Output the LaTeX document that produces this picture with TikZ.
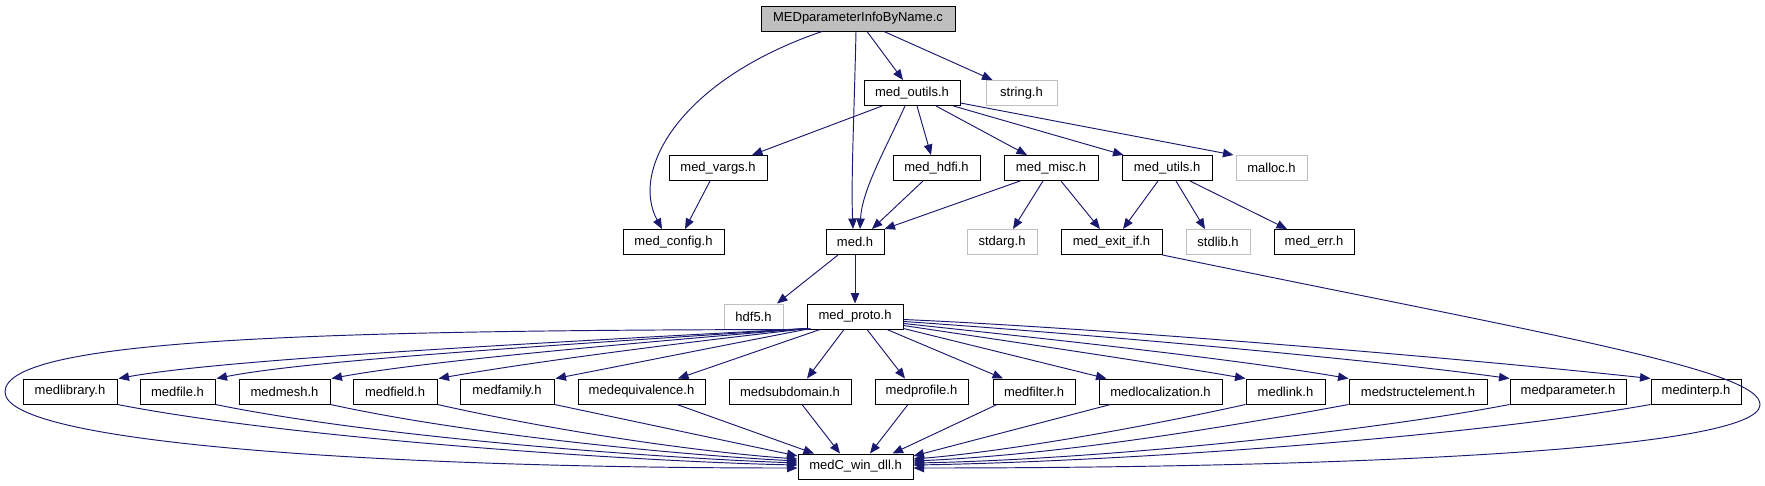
\documentclass[tikz,border=0pt]{standalone}
\usepackage{fontspec}
\setmainfont{Liberation Sans}
\usetikzlibrary{arrows.meta}
\definecolor{navy}{RGB}{25,25,112}
\definecolor{lgray}{RGB}{191,191,191}
\definecolor{rgray}{RGB}{191,191,191}
\begin{document}
\begin{tikzpicture}[x=1pt,y=-1pt,
  every node/.style={font=\fontsize{13pt}{15pt}\selectfont, inner sep=0pt, minimum height=25pt, anchor=center},
  hbox/.style={draw=black, fill=white, line width=1pt},
  gbox/.style={draw=lgray, fill=white, line width=1pt},
  rbox/.style={draw=black, fill=rgray, line width=1pt},
  dep/.style={draw=navy, line width=0.95pt, -{Triangle[length=10.5pt,width=8.5pt]}}]
\useasboundingbox (0,0) rectangle (1765,485);
% nodes
\node[rbox, minimum width=194pt] (root) at (858,18.5) {MEDparameterInfoByName.c};
\node[hbox, minimum width=96pt] (outils) at (912,93) {med\_outils.h};
\node[gbox, minimum width=71pt] (string) at (1021.5,93) {string.h};
\node[hbox, minimum width=98pt] (vargs) at (718,168) {med\_vargs.h};
\node[hbox, minimum width=87pt] (hdfi) at (936.5,168) {med\_hdfi.h};
\node[hbox, minimum width=94pt] (misc) at (1051,168) {med\_misc.h};
\node[hbox, minimum width=90pt] (utils) at (1167,168) {med\_utils.h};
\node[gbox, minimum width=71pt] (malloc) at (1271.5,168) {malloc.h};
\node[hbox, minimum width=101pt] (config) at (673.5,242) {med\_config.h};
\node[hbox, minimum width=58pt] (med) at (855,242) {med.h};
\node[gbox, minimum width=70pt] (stdarg) at (1002,242) {stdarg.h};
\node[hbox, minimum width=101pt] (exitif) at (1111.5,242) {med\_exit\_if.h};
\node[gbox, minimum width=64pt] (stdlib) at (1218,242) {stdlib.h};
\node[hbox, minimum width=80pt] (err) at (1314,242) {med\_err.h};
\node[gbox, minimum width=59pt] (hdf) at (753.5,316.5) {hdf5.h};
\node[hbox, minimum width=96pt] (proto) at (855,316.5) {med\_proto.h};
\node[hbox, minimum width=94pt] (library) at (70,391.5) {medlibrary.h};
\node[hbox, minimum width=75pt] (file) at (177.5,391.5) {medfile.h};
\node[hbox, minimum width=91pt] (mesh) at (284.5,391.5) {medmesh.h};
\node[hbox, minimum width=84pt] (field) at (395,391.5) {medfield.h};
\node[hbox, minimum width=94pt] (family) at (507,391.5) {medfamily.h};
\node[hbox, minimum width=127pt] (equiv) at (641.5,391.5) {medequivalence.h};
\node[hbox, minimum width=122pt] (subdomain) at (790,391.5) {medsubdomain.h};
\node[hbox, minimum width=93pt] (profile) at (921.5,391.5) {medprofile.h};
\node[hbox, minimum width=82pt] (filter) at (1034,391.5) {medfilter.h};
\node[hbox, minimum width=123pt] (local) at (1160.5,391.5) {medlocalization.h};
\node[hbox, minimum width=79pt] (link) at (1285.5,391.5) {medlink.h};
\node[hbox, minimum width=138pt] (struct) at (1418,391.5) {medstructelement.h};
\node[hbox, minimum width=116pt] (param) at (1568,391.5) {medparameter.h};
\node[hbox, minimum width=90pt] (interp) at (1696,391.5) {medinterp.h};
\node[hbox, minimum width=115pt] (dll) at (855.5,466.5) {medC\_win\_dll.h};
% edges: top part
\draw[dep] ([xshift=-36pt]root.south) .. controls (680,80) and (630,170) .. ([xshift=-11.5pt]config.north);
\draw[dep] ([xshift=-2pt]root.south) .. controls (854,120) and (851,180) .. ([xshift=-2pt]med.north);
\draw[dep] ([xshift=9pt]root.south) -- ([xshift=-9pt]outils.north);
\draw[dep] ([xshift=26pt]root.south) -- ([xshift=-29pt]string.north);
\draw[dep] ([xshift=-30pt]outils.south) -- ([xshift=34pt]vargs.north);
\draw[dep] ([xshift=-7pt]outils.south) .. controls (885,150) and (862,190) .. ([xshift=5pt]med.north);
\draw[dep] ([xshift=5pt]outils.south) -- ([xshift=-5.5pt]hdfi.north);
\draw[dep] ([xshift=24pt]outils.south) -- ([xshift=-24pt]misc.north);
\draw[dep] ([xshift=-7pt]outils.south east) -- ([xshift=2pt]utils.north west);
\draw[dep] ([yshift=3pt]outils.south east) -- ([xshift=-2pt]malloc.north west);
\draw[dep] ([xshift=-8pt]vargs.south) -- ([xshift=11.5pt]config.north);
\draw[dep] ([xshift=-13.5pt]hdfi.south) -- ([xshift=17pt]med.north);
\draw[dep] ([xshift=-31pt]misc.south) -- (med.north east);
\draw[dep] ([xshift=-8pt]misc.south) -- ([xshift=11pt]stdarg.north);
\draw[dep] ([xshift=10pt]misc.south) -- ([xshift=-11.5pt]exitif.north);
\draw[dep] ([xshift=-9pt]utils.south) -- ([xshift=11.5pt]exitif.north);
\draw[dep] ([xshift=9pt]utils.south) -- ([xshift=-13pt]stdlib.north);
\draw[dep] ([xshift=23pt]utils.south) -- ([xshift=-27pt]err.north);
\draw[dep] ([xshift=-17pt]med.south) -- ([xshift=23.5pt]hdf.north);
\draw[dep] (med.south) -- (proto.north);
% loops to dll
\draw[dep] (exitif.south east) .. controls (1550,335) and (1762,370) .. (1760,405) .. controls (1758,450) and (1350,468) .. ([yshift=-1.5pt]dll.east);
\draw[dep] ([xshift=3pt]proto.south west) .. controls (300,330) and (5,340) .. (5,392) .. controls (5,445) and (400,468) .. ([yshift=-1.5pt]dll.west);
% proto to bottom row
\draw[dep] ([yshift=1pt]proto.south west) .. controls (500,345) and (220,360) .. ([xshift=1pt]library.north east);
\draw[dep] ([yshift=1pt]proto.south west) .. controls (560,345) and (310,360) .. ([xshift=1pt]file.north east);
\draw[dep] ([yshift=1pt]proto.south west) .. controls (610,345) and (420,362) .. ([xshift=1pt]mesh.north east);
\draw[dep] ([xshift=2pt,yshift=1pt]proto.south west) .. controls (660,345) and (520,364) .. ([xshift=1pt]field.north east);
\draw[dep] ([xshift=4pt,yshift=1pt]proto.south west) .. controls (710,348) and (620,366) .. ([xshift=1pt]family.north east);
\draw[dep] ([xshift=-35pt]proto.south) -- ([xshift=36.5pt]equiv.north);
\draw[dep] ([xshift=-11pt]proto.south) -- ([xshift=17pt]subdomain.north);
\draw[dep] ([xshift=12pt]proto.south) -- ([xshift=-16.5pt]profile.north);
\draw[dep] ([xshift=32pt]proto.south) -- ([xshift=-31pt]filter.north);
\draw[dep] ([yshift=1pt]proto.south east) -- ([xshift=8pt]local.north west);
\draw[dep] ([yshift=4pt]proto.south east) .. controls (1000,340) and (1150,362) .. (link.north west);
\draw[dep] ([yshift=6pt]proto.south east) .. controls (1020,336) and (1230,358) .. (struct.north west);
\draw[dep] ([yshift=8pt]proto.south east) .. controls (1060,332) and (1360,358) .. (param.north west);
\draw[dep] ([yshift=10pt]proto.south east) .. controls (1100,328) and (1460,358) .. (interp.north west);
% bottom row to dll
\draw[dep] (library.south east) .. controls (300,440) and (650,462) .. ([yshift=1.5pt]dll.west);
\draw[dep] (file.south east) .. controls (380,438) and (660,458) .. ([yshift=3.5pt]dll.west);
\draw[dep] (mesh.south east) .. controls (470,435) and (680,455) .. ([yshift=5.5pt]dll.west);
\draw[dep] (field.south east) .. controls (560,432) and (700,452) .. ([yshift=7.5pt]dll.west);
\draw[dep] (family.south east) -- ([yshift=10.5pt]dll.west);
\draw[dep] ([xshift=35.5pt]equiv.south) -- ([xshift=16.5pt]dll.north west);
\draw[dep] ([xshift=12pt]subdomain.south) -- ([xshift=-15.5pt]dll.north);
\draw[dep] ([xshift=-13.5pt]profile.south) -- ([xshift=14.5pt]dll.north);
\draw[dep] ([xshift=-37pt]filter.south) -- ([xshift=-21pt]dll.north east);
\draw[dep] ([xshift=-50pt]local.south) -- ([yshift=10.5pt]dll.east);
\draw[dep] (link.south west) .. controls (1130,430) and (1000,452) .. ([yshift=7.5pt]dll.east);
\draw[dep] (struct.south west) .. controls (1200,432) and (1050,455) .. ([yshift=5.5pt]dll.east);
\draw[dep] (param.south west) .. controls (1350,435) and (1080,460) .. ([yshift=3.5pt]dll.east);
\draw[dep] (interp.south west) .. controls (1450,440) and (1100,462) .. ([yshift=1.5pt]dll.east);
\end{tikzpicture}
\end{document}
